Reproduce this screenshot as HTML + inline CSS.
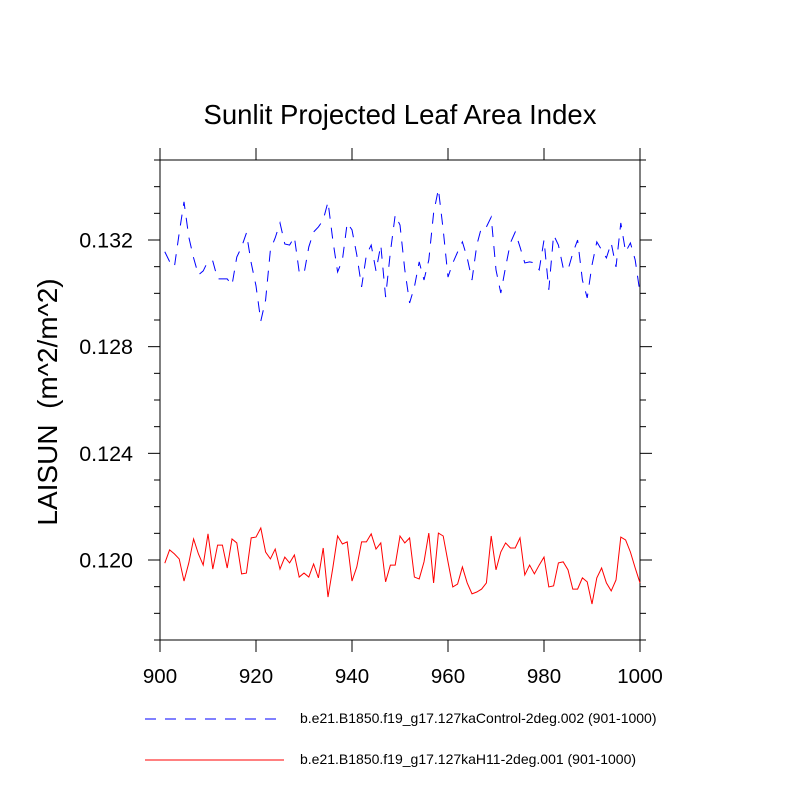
<!DOCTYPE html>
<html><head><meta charset="utf-8"><style>
body{margin:0;background:#fff;}
svg{display:block;font-family:"Liberation Sans",sans-serif;}
</style></head><body>
<svg id="chart" width="800" height="800" viewBox="0 0 800 800">
<text x="400" y="124" font-size="27.5" text-anchor="middle">Sunlit Projected Leaf Area Index</text>
<text transform="translate(57,402) rotate(-90)" font-size="28" text-anchor="middle" xml:space="preserve">LAISUN  (m^2/m^2)</text>
<g id="axes"></g>
<g id="series"></g>
<g>
<line x1="145" y1="719" x2="276" y2="719" stroke="#0000ff" stroke-width="1" stroke-dasharray="11,9"/>
<text x="300" y="723" font-size="14">b.e21.B1850.f19_g17.127kaControl-2deg.002 (901-1000)</text>
<line x1="145" y1="760" x2="284" y2="760" stroke="#ff0000" stroke-width="1"/>
<text x="300" y="764" font-size="14">b.e21.B1850.f19_g17.127kaH11-2deg.001 (901-1000)</text>
</g>
</svg>
<script>
const years = Array.from({length:100},(_, i)=>901+i);
const controlValues = [131.56,131.19,130.99,132.26,133.43,132.11,131.33,130.69,130.84,131.21,131.21,130.54,130.54,130.54,130.31,131.36,131.74,132.26,131.14,130.28,128.96,129.75,131.63,132.08,132.64,131.85,131.81,132.11,130.80,130.73,131.74,132.30,132.49,132.75,133.43,132.00,130.80,131.25,132.64,132.38,131.44,130.24,131.44,131.81,130.84,131.81,129.86,131.55,132.94,132.56,130.88,129.64,130.24,131.18,130.50,131.25,133.01,133.91,132.38,130.61,131.14,131.55,131.93,131.33,130.50,131.81,132.49,132.49,132.86,130.88,130.01,130.99,131.89,132.30,131.74,131.14,131.18,131.14,130.88,132.00,130.13,132.19,131.81,130.95,130.88,131.51,132.00,130.50,129.83,131.06,131.93,131.63,131.33,131.89,130.99,132.64,131.55,131.89,131.25,130.01];
const h11Values = [119.88,120.38,120.23,120.04,119.21,119.89,120.79,120.23,119.81,120.98,119.66,120.56,120.56,119.70,120.79,120.64,119.48,119.51,120.83,120.86,121.20,120.30,120.04,120.41,119.66,120.11,119.89,120.19,119.36,119.51,119.36,119.85,119.33,120.45,118.61,119.70,120.90,120.60,120.68,119.21,119.74,120.68,120.68,120.98,120.41,120.64,119.18,119.81,119.81,120.90,120.64,120.83,119.36,119.29,119.93,121.01,119.14,121.01,120.90,119.93,118.99,119.10,119.74,119.14,118.73,118.80,118.91,119.14,120.90,119.63,120.30,120.64,120.45,120.45,120.83,119.44,119.81,119.48,119.81,120.11,118.99,119.03,119.89,119.93,119.63,118.91,118.91,119.33,119.18,118.35,119.33,119.70,119.14,118.84,119.25,120.86,120.75,120.30,119.70,119.14];
const xTicks = [900,920,940,960,980,1000];
const yTicks = [0.120,0.124,0.128,0.132];
const yTickLabels = ["0.120","0.124","0.128","0.132"];

const L=160,R=640,T=160,B=640,XMIN=900,XMAX=1000,YMIN=0.117,YMAX=0.135;
const xs = v => L+(v-XMIN)/(XMAX-XMIN)*(R-L);
const ys = v => B-(v-YMIN)/(YMAX-YMIN)*(B-T);
const NS="http://www.w3.org/2000/svg";
function mk(tag, attrs, parent){const e=document.createElementNS(NS,tag);for(const k in attrs)e.setAttribute(k,attrs[k]);parent.appendChild(e);return e;}
const ax=document.getElementById('axes');
const frame=mk('rect',{x:L,y:T,width:R-L,height:B-T,fill:'none',stroke:'#000','stroke-width':1},ax);


xTicks.forEach(t=>{
  const x=xs(t);
  const a=mk('line',{x1:x,y1:B,x2:x,y2:B+12,stroke:'#000'},ax);
  
  
  const b=mk('line',{x1:x,y1:T,x2:x,y2:T-12,stroke:'#000'},ax);
  
  
  const tx=mk('text',{x:x,y:B+43,'font-size':20.5,'text-anchor':'middle'},ax);
  tx.textContent=t;
  
  
});
for(let m=117;m<=135;m++){
  const v=m/1000, y=ys(v);
  const major=yTicks.some(t=>Math.abs(t-v)<1e-9);
  const len=major?12:6;
  const a=mk('line',{x1:L,y1:y,x2:L-len,y2:y,stroke:'#000'},ax);
  
  
  const b=mk('line',{x1:R,y1:y,x2:R+len,y2:y,stroke:'#000'},ax);
  
  
}
yTicks.forEach((t,i)=>{
  const tx=mk('text',{x:L-27,y:ys(t)+7.5,'font-size':21.5,'text-anchor':'end'},ax);
  tx.textContent=yTickLabels[i];
  
  
});
const sg=document.getElementById('series');
const pc=controlValues.map((v,i)=>xs(years[i])+','+ys(v/1000)).join(' ');
const p1=mk('polyline',{points:pc,fill:'none',stroke:'#0000ff','stroke-width':1,'stroke-dasharray':'11,9'},sg);


const ph=h11Values.map((v,i)=>xs(years[i])+','+ys(v/1000)).join(' ');
const p2=mk('polyline',{points:ph,fill:'none',stroke:'#ff0000','stroke-width':1},sg);


</script>
</body></html>
